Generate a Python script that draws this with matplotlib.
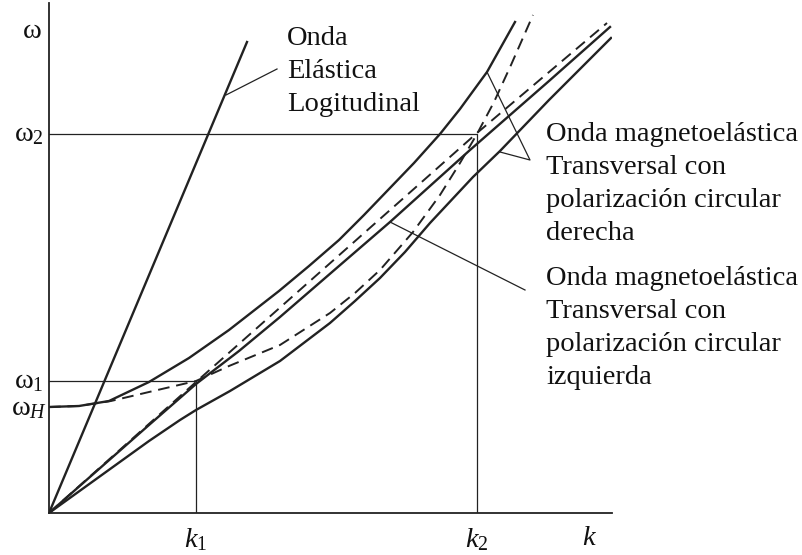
import matplotlib.pyplot as plt

plt.rcParams['font.family'] = 'Liberation Serif'
plt.rcParams['mathtext.fontset'] = 'custom'
plt.rcParams['mathtext.rm'] = 'Liberation Serif'
plt.rcParams['mathtext.it'] = 'Liberation Serif:italic'

# reference values on the axes (arbitrary units)
k1, k2 = 147, 428
w1, w2, wH = 132, 379, 106

# longitudinal elastic wave
long_k = [0, 198]
long_w = [0, 471]

# transverse elastic wave, uncoupled (dashed)
phon_k = [0, 147, 428, 558]
phon_w = [0, 131, 380, 490]

# spin wave, uncoupled (dashed)
mag_k = [0, 30, 62, 100, 147, 180, 231, 281, 306, 331, 364, 391, 411, 428, 445, 462, 484]
mag_w = [106, 107, 112, 121, 132, 147, 168, 200, 220, 243, 281, 318, 350, 379, 411, 448, 498]

# right circular polarization, upper branch
up_k = [0, 30, 60, 100, 140, 180, 230, 260, 290, 315, 340, 365, 391, 411, 438, 466]
up_w = [106, 107, 112, 131, 155, 183, 222, 247, 273, 298, 324, 350, 379, 404, 441, 491]

# left circular polarization
left_k = [0, 100, 147, 190, 231, 290, 341, 421, 500, 561]
left_w = [0, 88, 129, 162, 196, 247, 291, 363, 432, 486]

# right circular polarization, lower branch
low_k = [0, 50, 100, 131, 147, 181, 231, 281, 306, 331, 356, 381, 424, 451, 500, 562]
low_w = [0, 36, 72, 93, 103, 122, 152, 190, 212, 235, 261, 290, 336, 362, 413, 475]

fig = plt.figure(figsize=(8.03, 5.55), dpi=100, facecolor='white')
ax = fig.add_axes([49 / 803, 42 / 555, 563 / 803, 510 / 555])
ax.set_xlim(0, 563)
ax.set_ylim(0, 510)
for side in ['top', 'right']:
    ax.spines[side].set_visible(False)
for side in ['left', 'bottom']:
    ax.spines[side].set_linewidth(1.3)
    ax.spines[side].set_color('#222222')
ax.set_xticks([])
ax.set_yticks([])

ink = '#222222'
solid = dict(color=ink, lw=1.7, solid_joinstyle='round')
dashed = dict(color=ink, lw=1.4, ls=(0, (6, 3.5)))
thin = dict(color=ink, lw=0.9)

# guide lines for the crossing points
ax.plot([0, k1, k1], [w1, w1, 0], **thin)
ax.plot([0, k2, k2], [w2, w2, 0], **thin)

ax.plot(long_k, long_w, **solid)
ax.plot(phon_k, phon_w, **dashed)
ax.plot(mag_k, mag_w, **dashed)
ax.plot(up_k, up_w, **solid)
ax.plot(left_k, left_w, **solid)
ax.plot(low_k, low_w, **solid)

# leader lines to the labels
ax.plot([177, 228], [418, 444], **thin)
ax.plot([438, 481, 451], [441, 353, 361], **thin)
ax.plot([341, 476], [291, 223], **thin)

fs = 20.5
txt = dict(fontsize=fs, color='#111111', clip_on=False, va='baseline')


def block(x, y0, lines, step=33):
    for i, line in enumerate(lines):
        ax.text(x, y0 - i * step, line, ha='left', **txt)


block(238, 513 - 45, ['Onda', 'Elástica', 'Logitudinal'])
block(497, 513 - 141, ['Onda magnetoelástica', 'Transversal con',
                       'polarización circular', 'derecha'])
block(497, 513 - 285, ['Onda magnetoelástica', 'Transversal con',
                       'polarización circular', 'izquierda'])

# axis labels
ax.text(-17, 513 - 38, r'$\mathrm{\omega}$', ha='center', **txt)
ax.text(-5, 513 - 141, r'$\mathrm{\omega}_2$', ha='right', **txt)
ax.text(-5, 513 - 388, r'$\mathrm{\omega}_1$', ha='right', **txt)
ax.text(-2, 513 - 415, r'$\mathrm{\omega}_H$', ha='right', **txt)
ax.text(k1, 513 - 547, r'$k_1$', ha='center', **txt)
ax.text(k2, 513 - 547, r'$k_2$', ha='center', **txt)
ax.text(541, 513 - 545, r'$k$', ha='center', **txt)

fig.savefig('out.png', dpi=100, facecolor='white')
